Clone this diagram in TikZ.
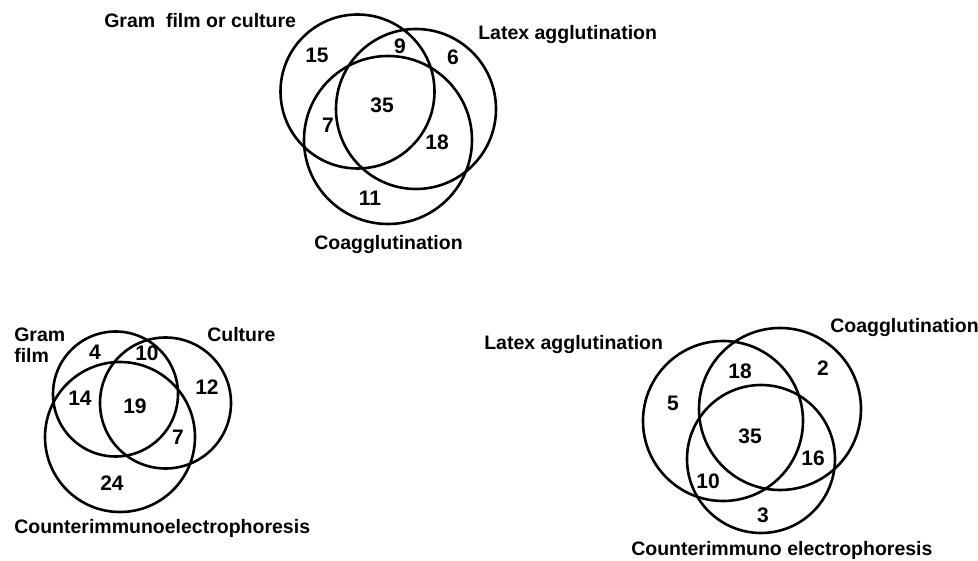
\documentclass[tikz,border=0pt]{standalone}
\usepackage{fontspec}
\setmainfont{Liberation Sans}
\begin{document}
\begin{tikzpicture}[x=1pt,y=-1pt,line width=2.6pt,
  font=\bfseries\fontsize{19.5}{22}\selectfont,
  every node/.style={inner sep=0pt},
  setname/.style={anchor=base west},
  count/.style={font=\bfseries\fontsize{21}{24}\selectfont}]
\useasboundingbox (0,0) rectangle (978,561);
%\draw (0,0) grid[step=50] (978,561);
% top: gram film or culture, latex, coagglutination
\draw (357.5,91.5) circle (77pt);
\draw (416,109) circle (80pt);
\draw (388,140) circle (84pt);
\draw (103,28) node[setname] (gfc) {Gram\ \ film or culture};
\draw (477,40) node[setname] (lat1) {Latex agglutination};
\draw (313,250) node[setname] (coa1) {Coagglutination};
\draw (317,55) node[count] (t15) {15};
\draw (400,46) node[count] (t9) {9};
\draw (453,57) node[count] (t6) {6};
\draw (382,105) node[count] (t35) {35};
\draw (328,125) node[count] (t7) {7};
\draw (437,142) node[count] (t18) {18};
\draw (370,198) node[count] (t11) {11};
% bottom left: gram film, culture, cie
\draw (115.5,394) circle (62.5pt);
\draw (165.5,403) circle (65.5pt);
\draw (120,437) circle (75pt);
\draw (13,342) node[setname] (gram) {Gram};
\draw (13,363) node[setname] (film) {film};
\draw (206,342) node[setname] (cul) {Culture};
\draw (13,533) node[setname] (cie1) {Counterimmunoelectrophoresis};
\draw (95,352) node[count] (l4) {4};
\draw (147,353) node[count] (l10) {10};
\draw (207,387) node[count] (l12) {12};
\draw (80,398) node[count] (l14) {14};
\draw (135,406) node[count] (l19) {19};
\draw (178,437) node[count] (l7) {7};
\draw (112,483) node[count] (l24) {24};
% bottom right: latex, coagglutination, cie
\draw (723,421) circle (80pt);
\draw (780,409) circle (81pt);
\draw (761,459) circle (74pt);
\draw (483,350) node[setname] (lat2) {Latex agglutination};
\draw (829,333) node[setname] (coa2) {Coagglutination};
\draw (630,555) node[setname] (cie2) {Counterimmuno electrophoresis};
\draw (673,403) node[count] (r5) {5};
\draw (740,371) node[count] (r18) {18};
\draw (823,368) node[count] (r2) {2};
\draw (750,436) node[count] (r35) {35};
\draw (813,458) node[count] (r16) {16};
\draw (708,481) node[count] (r10) {10};
\draw (763,515) node[count] (r3) {3};
\end{tikzpicture}
\end{document}
